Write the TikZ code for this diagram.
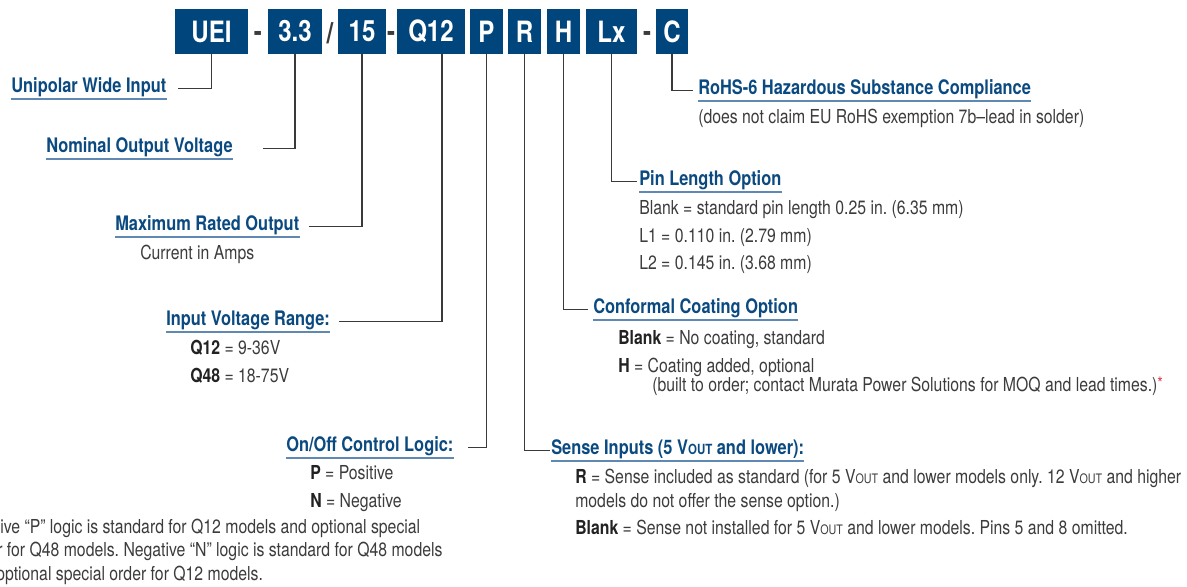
\documentclass[tikz,border=0pt]{standalone}
\usepackage{fontspec}
\setmainfont{TeX Gyre Heros}[FakeStretch=0.82]
\usetikzlibrary{calc}
\frenchspacing

\definecolor{boxblue}{HTML}{00457C}
\definecolor{titleblue}{HTML}{0B4A80}
\definecolor{ulblue}{HTML}{5F88B2}
\definecolor{linegray}{HTML}{3A3A3A}
\definecolor{textgray}{HTML}{3C3C3C}
\definecolor{keyblack}{HTML}{222222}
\definecolor{starred}{HTML}{E8384F}

\newcommand{\vout}{V{\fontsize{9.8}{9.8}\selectfont OUT}}
\newcommand{\voutb}{V{\fontsize{10.5}{10.5}\selectfont OUT}}
\newcommand{\key}[1]{{\bfseries\color{keyblack}#1}}

\begin{document}
\begin{tikzpicture}[x=0.75pt, y=-0.75pt,
  codebox/.style={fill=boxblue, text=white, font=\fontsize{22}{22}\selectfont\bfseries,
    minimum height=33.75pt, inner sep=0pt},
  sep/.style={text=textgray, font=\fontsize{22}{22}\selectfont\bfseries, inner sep=0pt},
  title/.style={text=titleblue, font=\fontsize{15}{15}\selectfont\bfseries, inner sep=0pt,
    text height=10.5pt, text depth=4.5pt, anchor=south west},
  body/.style={text=textgray, font=\fontsize{14.45}{14.45}\selectfont, inner sep=0pt, anchor=base west},
  leader/.style={draw=linegray, line width=1.1pt},
  uline/.style={draw=ulblue, line width=1.2pt}]

  \useasboundingbox (0,0) rectangle (1187,586);

  % Part number boxes along the top
  \node[codebox, minimum width=54.75pt] (uei)  at (211.5,31.5) {UEI};
  \node[codebox, minimum width=40.5pt]  (vo)   at (295,31.5)   {3.3};
  \node[codebox, minimum width=36pt]    (io)   at (362,31.5)   {15};
  \node[codebox, minimum width=51pt]    (qin)  at (431,31.5)   {Q12};
  \node[codebox, minimum width=24.75pt] (pl)   at (486.5,31.5) {P};
  \node[codebox, minimum width=24.75pt] (rs)   at (524.5,31.5) {R};
  \node[codebox, minimum width=24.75pt] (hc)   at (563.5,31.5) {H};
  \node[codebox, minimum width=38.25pt] (lx)   at (611.5,31.5) {Lx};
  \node[codebox, minimum width=24pt]    (rc)   at (672,31.5)   {C};

  % Separators between the boxes
  \node[sep] (d1) at (258,36) {-};
  \node[sep] (sl) at (330,33) {/};
  \node[sep] (d2) at (391,36) {-};
  \node[sep] (d3) at (647,36) {-};

  % Option titles, left column
  \node[title] (t_uei)   at (11,99)   {Unipolar Wide Input};
  \node[title] (t_vout)  at (46,159)  {Nominal Output Voltage};
  \node[title] (t_iout)  at (115,237) {Maximum Rated Output};
  \node[title] (t_vin)   at (166,332) {Input Voltage Range:};
  \node[title] (t_onoff) at (286,458) {On/Off Control Logic:};

  % Option titles, right column
  \node[title] (t_rohs)  at (698,101) {RoHS-6 Hazardous Substance Compliance};
  \node[title] (t_pin)   at (639,192) {Pin Length Option};
  \node[title] (t_coat)  at (593,320) {Conformal Coating Option};
  \node[title] (t_sense) at (551,461) {Sense Inputs (5 \voutb{} and lower):};

  \foreach \t in {t_uei, t_vout, t_iout, t_vin, t_onoff, t_rohs, t_pin, t_coat, t_sense}
    \draw[uline] (\t.south west) -- (\t.south east);

  % Descriptions under the titles
  \node[body] (b_iout) at (140,259) {Current in Amps};
  \node[body] (b_q12)  at (190,354) {\key{Q12} = 9-36V};
  \node[body] (b_q48)  at (190,382) {\key{Q48} = 18-75V};
  \node[body] (b_pos)  at (310,479) {\key{P} = Positive};
  \node[body] (b_neg)  at (310,507) {\key{N} = Negative};
  \node[body] (n1) at (0,533)  {ive “P” logic is standard for Q12 models and optional special};
  \node[body] (n2) at (-3,556) {r for Q48 models. Negative “N” logic is standard for Q48 models};
  \node[body] (n3) at (-4,580) {optional special order for Q12 models.};

  \node[body] (b_rohs) at (698,123) {(does not claim EU RoHS exemption 7b--lead in solder)};
  \node[body] (b_pin0) at (639,214) {Blank = standard pin length 0.25 in. (6.35 mm)};
  \node[body] (b_pin1) at (639,242) {L1 = 0.110 in. (2.79 mm)};
  \node[body] (b_pin2) at (639,269) {L2 = 0.145 in. (3.68 mm)};
  \node[body] (b_coat0) at (618,344) {\key{Blank} = No coating, standard};
  \node[body] (b_coat1) at (618,372) {\key{H} = Coating added, optional};
  \node[body] (b_coat2) at (652,391) {(built to order; contact Murata Power Solutions for MOQ and lead times.){\color{starred}\fontsize{13}{13}\selectfont\raisebox{1pt}{*}}};
  \node[body] (b_sen0) at (575,483) {\key{R} = Sense included as standard (for 5 \vout{} and lower models only. 12 \vout{} and higher};
  \node[body] (b_sen1) at (575,507) {models do not offer the sense option.)};
  \node[body] (b_sen2) at (575,534) {\key{Blank} = Sense not installed for 5 \vout{} and lower models. Pins 5 and 8 omitted.};

  % Leaders from each box down to its title
  \draw[leader] (uei.south) |- ($(t_uei.east)+(11,0)$);
  \draw[leader] (vo.south) |- ($(t_vout.east)+(30,0)$);
  \draw[leader] (io.south) |- ($(t_iout.east)+(9,0)$);
  \draw[leader] ($(qin.south)+(11,0)$) |- ($(t_vin.east)+(9,0)$);
  \draw[leader] (pl.south) |- ($(t_onoff.east)+(14,0)$);
  \draw[leader] (rs.south) |- ($(t_sense.west)+(-1,0)$);
  \draw[leader] (hc.south) |- ($(t_coat.west)+(-5,0)$);
  \draw[leader] (lx.south) |- ($(t_pin.west)+(-2,0)$);
  \draw[leader] (rc.south) |- ($(t_rohs.west)+(-5,0)$);

\end{tikzpicture}
\end{document}
